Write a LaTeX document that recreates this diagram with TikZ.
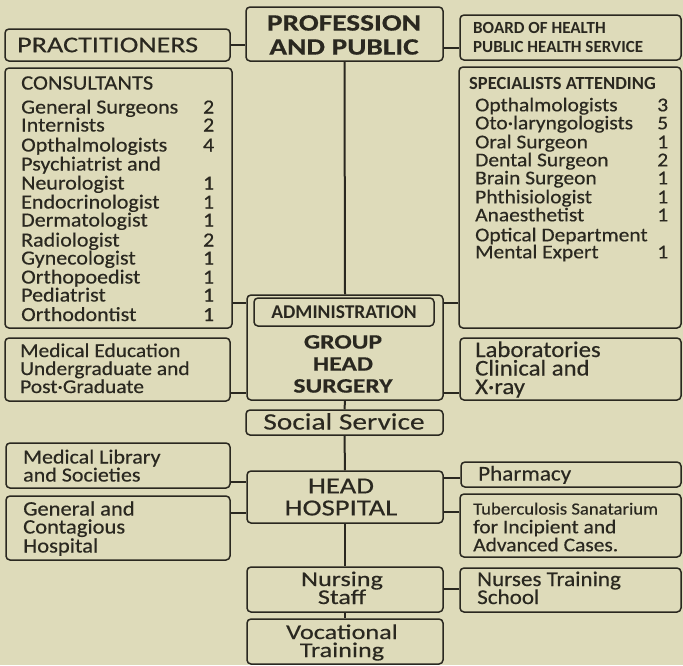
\documentclass[tikz,border=0pt]{standalone}
\usepackage{fontspec}
\setmainfont[FakeStretch=1.1,FakeBold=0.4]{Carlito}
\newfontfamily\wf[FakeStretch=1.25,FakeBold=0.4]{Carlito}
\newfontfamily\nf{Carlito}
\usetikzlibrary{fit}
\definecolor{bg}{RGB}{222,219,186}
\definecolor{ink}{RGB}{42,40,32}
\newcommand\fs[1]{\fontsize{#1}{#1}\selectfont}
\newcommand\bx[5]{\node[box, fit={(#2,#3) (#4,#5)}] (#1) {};}
\begin{document}
\begin{tikzpicture}[x=1pt,y=-1pt,
  box/.style={draw=ink, line width=1.5pt, rounded corners=4pt, inner sep=0pt},
  conn/.style={draw=ink, line width=2pt},
  lbl/.style={text=ink, inner sep=0pt, anchor=base west},
  clbl/.style={text=ink, inner sep=0pt, anchor=base}]
\fill[bg] (0,0) rectangle (683,665);
\useasboundingbox (0,0) rectangle (683,665);

% boxes
\bx{prac}{5}{29}{230}{61}
\bx{prof}{246}{7}{443}{61}
\bx{board}{460}{15}{681}{60}
\bx{cons}{5}{68}{232}{328}
\bx{spec}{459}{67}{681}{328}
\bx{adm}{247}{295}{443}{400}
\bx{admin}{254}{298}{434}{326}
\bx{medu}{5}{338}{230}{401}
\bx{labs}{460}{338}{681}{400}
\bx{soc}{246}{410}{443}{435}
\bx{mlib}{6}{443}{230}{488}
\bx{head}{247}{471}{443}{523}
\bx{gen}{6}{496}{230}{560}
\bx{pharm}{461}{462}{681}{487}
\bx{tb}{460}{494}{681}{557}
\bx{nurs}{247}{567}{443}{612}
\bx{nts}{460}{568}{681}{612}
\bx{voc}{247}{619}{443}{664}

% connectors
\draw[conn] (prac.east |- 0,45) -- (prof.west |- 0,45);
\draw[conn] (prof.east |- 0,48) -- (board.west |- 0,48);
\draw[conn] (prof.south) -- (adm.north);
\draw[conn] (cons.east |- 0,303) -- (adm.west |- 0,303);
\draw[conn] (adm.east |- 0,303) -- (spec.west |- 0,303);
\draw[conn] (medu.east |- 0,393) -- (adm.west |- 0,393);
\draw[conn] (adm.east |- 0,393) -- (labs.west |- 0,393);
\draw[conn] (adm.south) -- (soc.north);
\draw[conn] (soc.south) -- (head.north);
\draw[conn] (mlib.east |- 0,482) -- (head.west |- 0,482);
\draw[conn] (gen.east |- 0,513) -- (head.west |- 0,513);
\draw[conn] (head.east |- 0,478) -- (pharm.west |- 0,478);
\draw[conn] (head.east |- 0,512) -- (tb.west |- 0,512);
\draw[conn] (head.south) -- (nurs.north);
\draw[conn] (nurs.east |- 0,589) -- (nts.west |- 0,589);
\draw[conn] (nurs.south) -- (voc.north);

% texts
\node[lbl, font=\wf\fs{22.5}] (tprac) at (17,52.2) {PRACTITIONERS};
\node[clbl, font=\wf\bfseries\fs{23.5}] (tprof1) at (344,30.6) {PROFESSION};
\node[clbl, font=\wf\bfseries\fs{23.5}] (tprof2) at (344,54.6) {AND PUBLIC};
\node[lbl, font=\nf\bfseries\fs{17}] (tboard1) at (473,33.5) {BOARD OF HEALTH};
\node[lbl, font=\nf\bfseries\fs{17}] (tboard2) at (473,52.5) {PUBLIC HEALTH SERVICE};

\node[lbl, font=\fs{20.5}] (tcons) at (21,89.6) {CONSULTANTS};
\foreach \t/\n/\yy [count=\i] in {General Surgeons/2/113.5, Internists/2/131.5,
  Opthalmologists/4/151.5, Psychiatrist and//170.5, Neurologist/1/189.5,
  Endocrinologist/1/208.5, Dermatologist/1/226.5, Radiologist/2/246.5,
  Gynecologist/1/264.5, Orthopoedist/1/283.5, Pediatrist/1/301.5,
  Orthodontist/1/321}
  \node[lbl, font=\fs{20}] (c\i) at (21,\yy) {\hbox to 193pt{\t\hfil\n}};

\node[lbl, font=\nf\bfseries\fs{18.5}] (tspec) at (469,89) {SPECIALISTS ATTENDING};
\foreach \t/\n/\yy [count=\i] in {Opthalmologists/3/111.3, Oto·laryngologists/5/129.3,
  Oral Surgeon/1/148.3, Dental Surgeon/2/166.3, Brain Surgeon/1/184.3,
  Phthisiologist/1/203.3, Anaesthetist/1/221.3, Optical Department//241.3,
  Mental Expert/1/258.3}
  \node[lbl, font=\fs{19.5}] (s\i) at (475,\yy) {\hbox to 193pt{\t\hfil\n}};

\node[clbl, font=\nf\bfseries\fs{19.5}] (tadmin) at (344,318.3) {ADMINISTRATION};
\node[clbl, font=\wf\bfseries\fs{20.5}] (tg1) at (343,348.6) {GROUP};
\node[clbl, font=\wf\bfseries\fs{20.5}] (tg2) at (343,370.6) {HEAD};
\node[clbl, font=\wf\bfseries\fs{20.5}] (tg3) at (343,392.6) {SURGERY};

\node[lbl, font=\fs{19.5}] (tm1) at (20,357) {Medical Education};
\node[lbl, font=\fs{19.5}] (tm2) at (20,375) {Undergraduate and};
\node[lbl, font=\fs{19.5}] (tm3) at (20,393) {Post·Graduate};

\node[lbl, font=\fs{22.5}] (tl1) at (475,357) {Laboratories};
\node[lbl, font=\fs{22.5}] (tl2) at (475,375.5) {Clinical and};
\node[lbl, font=\fs{22.5}] (tl3) at (475,394) {X·ray};

\node[clbl, font=\wf\fs{23.5}] (tsoc) at (344,429.5) {Social Service};

\node[lbl, font=\fs{20}] (tml1) at (23,463.5) {Medical Library};
\node[lbl, font=\fs{20}] (tml2) at (23,481.5) {and Societies};

\node[clbl, font=\wf\fs{23}] (th1) at (341,493.4) {HEAD};
\node[clbl, font=\wf\fs{23}] (th2) at (341,515.4) {HOSPITAL};

\node[lbl, font=\fs{20.5}] (tgen1) at (23,515.5) {General and};
\node[lbl, font=\fs{20.5}] (tgen2) at (23,533.5) {Contagious};
\node[lbl, font=\fs{20.5}] (tgen3) at (23,552.5) {Hospital};

\node[lbl, font=\fs{21}] (tph) at (478,480.5) {Pharmacy};

\node[lbl, font=\fs{17}] (ttb1) at (473,514.5) {Tuberculosis Sanatarium};
\node[lbl, font=\fs{19.5}] (ttb2) at (473,533.3) {for Incipient and};
\node[lbl, font=\fs{19.5}] (ttb3) at (473,551.3) {Advanced Cases.};

\node[clbl, font=\wf\fs{21}] (tn1) at (342,586) {Nursing};
\node[clbl, font=\wf\fs{21}] (tn2) at (342,604) {Staff};

\node[lbl, font=\fs{21}] (tnt1) at (477,586) {Nurses Training};
\node[lbl, font=\fs{21}] (tnt2) at (477,604) {School};

\node[clbl, font=\wf\fs{21}] (tv1) at (342,639) {Vocational};
\node[clbl, font=\wf\fs{21}] (tv2) at (342,657) {Training};
\end{tikzpicture}
\end{document}
